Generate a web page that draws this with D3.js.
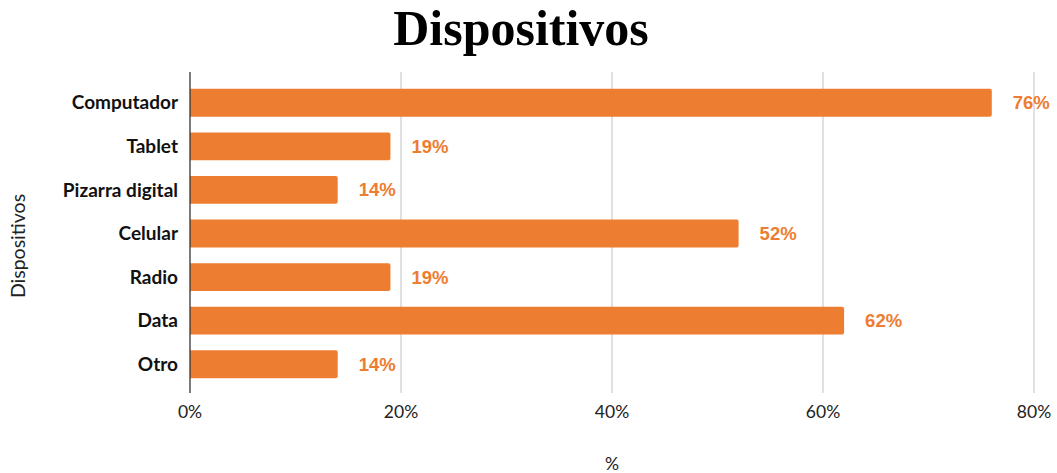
<!DOCTYPE html>
<html><head><meta charset="utf-8">
<script src="https://cdn.jsdelivr.net/npm/d3@7"></script>
<style>body{margin:0;background:#fff}</style>
</head><body>
<script>
const categories = ["Computador","Tablet","Pizarra digital","Celular","Radio","Data","Otro"];
const values = [76,19,14,52,19,62,14];
const xTicks = [0,20,40,60,80];
const title = "Dispositivos";
const yTitle = "Dispositivos";
const xTitle = "%";

const W = 1057, H = 473;
const svg = d3.select("body").append("svg").attr("width",W).attr("height",H);
const x = d3.scaleLinear().domain([0,80]).range([190,1034]);
const y = d3.scaleBand().domain(categories).range([81,386]).paddingInner(0.36).paddingOuter(0.18);
const plotTop = 72, plotBottom = 393;

svg.append("g").selectAll("line").data(xTicks.slice(1)).join("line")
  .attr("x1",d=>x(d)).attr("x2",d=>x(d)).attr("y1",plotTop).attr("y2",plotBottom)
  .attr("stroke","#cccccc").attr("stroke-width",1.2);

svg.append("g").selectAll("path").data(categories).join("path")
  .attr("fill","#ed7d31")
  .attr("d",(d,i)=>{
    const x0=x(0), x1=x(values[i]), y0=y(d), h=y.bandwidth(), r=2;
    return `M${x0},${y0}H${x1-r}Q${x1},${y0} ${x1},${y0+r}V${y0+h-r}Q${x1},${y0+h} ${x1-r},${y0+h}H${x0}Z`;
  });

svg.append("line").attr("x1",x(0)).attr("x2",x(0)).attr("y1",plotTop).attr("y2",plotBottom)
  .attr("stroke","#333").attr("stroke-width",1.3);

svg.append("g").selectAll("text").data(categories).join("text")
  .attr("x",(d,i)=>x(values[i])+21).attr("y",d=>y(d)+y.bandwidth()/2).attr("dy","0.35em")
  .attr("font-family","Liberation Sans, Arial, sans-serif").attr("font-weight","bold")
  .attr("font-size",18.5).attr("fill","#ed7d31").text((d,i)=>values[i]+"%");

svg.append("g").selectAll("text").data(categories).join("text")
  .attr("x",178).attr("y",d=>y(d)+y.bandwidth()/2).attr("dy","0.35em").attr("text-anchor","end")
  .attr("font-family","Lato, sans-serif").attr("font-weight","bold")
  .attr("font-size",19).attr("fill","#111").text(d=>d);

svg.append("g").selectAll("text").data(xTicks).join("text")
  .attr("x",d=>x(d)).attr("y",418).attr("text-anchor","middle")
  .attr("font-family","Lato, sans-serif").attr("font-size",17.5).attr("fill","#222").text(d=>d+"%");

svg.append("text").attr("x",x(40)).attr("y",470).attr("text-anchor","middle")
  .attr("font-family","Lato, sans-serif").attr("font-size",17.5).attr("fill","#222").text(xTitle);

svg.append("text").attr("transform","translate(25,246) rotate(-90)").attr("text-anchor","middle")
  .attr("font-family","Lato, sans-serif").attr("font-size",19.5).attr("fill","#222").text(yTitle);

svg.append("text").attr("x",521).attr("y",45).attr("text-anchor","middle")
  .attr("font-family","Liberation Serif, serif").attr("font-weight","bold")
  .attr("font-size",50).attr("fill","#000").text(title);
</script>
</body></html>
